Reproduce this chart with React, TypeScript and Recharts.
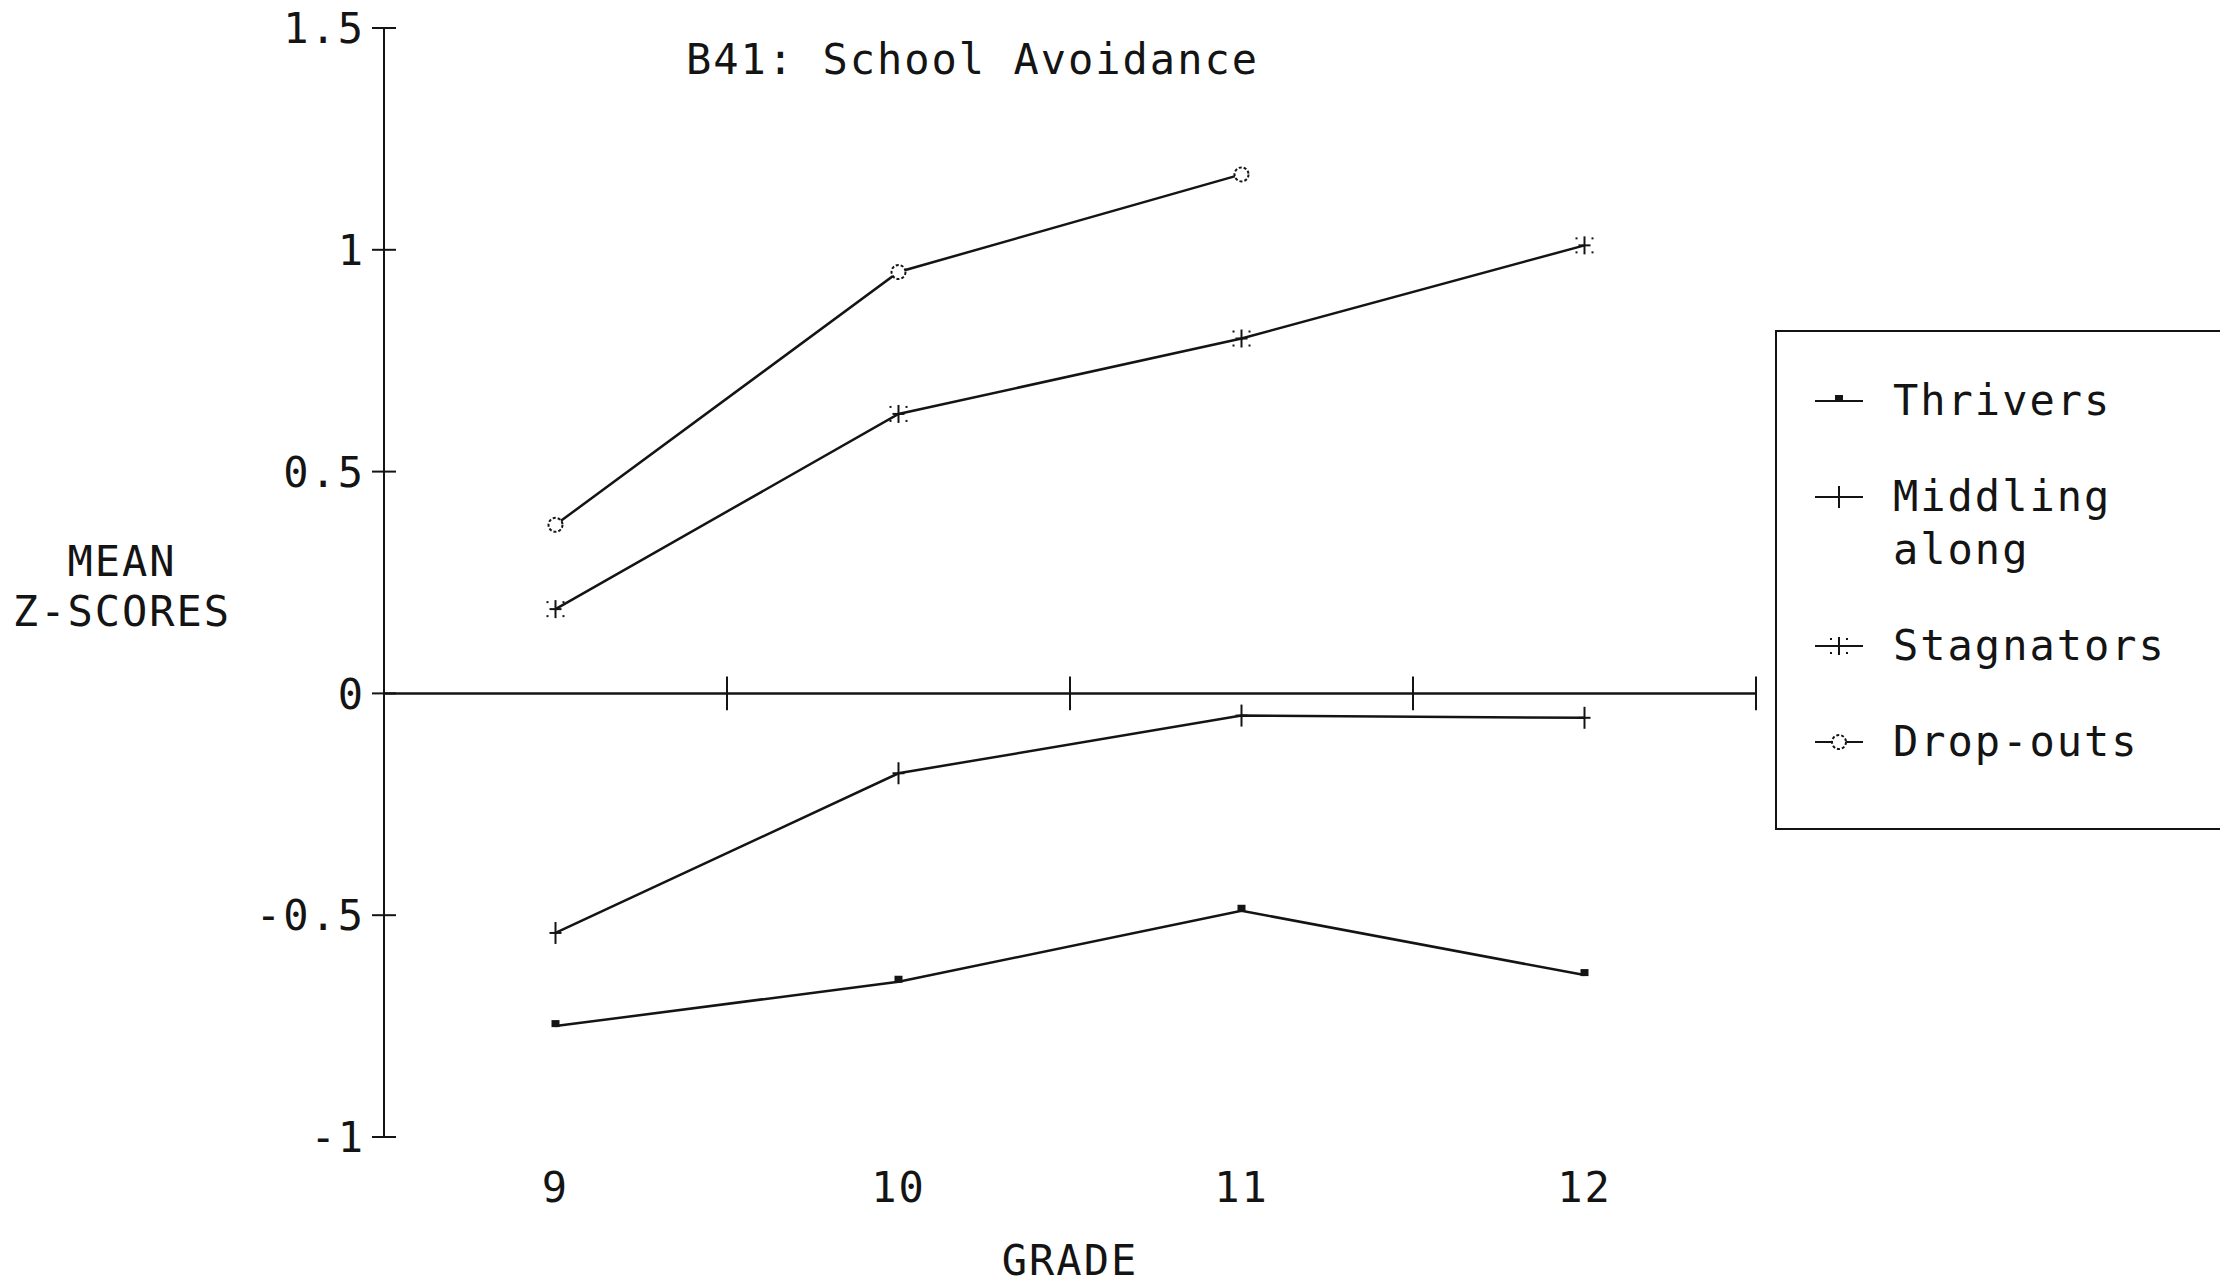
import React from 'react';
import { LineChart, Line, XAxis, YAxis, ReferenceLine, Legend, Label } from 'recharts';

const grades = [9, 10, 11, 12];
const thrivers = [-0.75, -0.65, -0.49, -0.635];
const middlingAlong = [-0.54, -0.18, -0.05, -0.055];
const stagnators = [0.19, 0.63, 0.8, 1.01];
const dropOuts = [0.38, 0.95, 1.17, null];

const yTicks = [-1, -0.5, 0, 0.5, 1, 1.5];
const zeroLineTicks = [9.5, 10.5, 11.5, 12.5];
const seriesKeys = ['thrivers', 'middling', 'stagnators', 'dropouts'];
const seriesNames = ['Thrivers', 'Middling along', 'Stagnators', 'Drop-outs'];
const chartTitle = 'B41: School Avoidance';
const yTitle = ['MEAN', 'Z-SCORES'];
const xTitle = 'GRADE';

const data = grades.map((g, i) => ({
  grade: g,
  thrivers: thrivers[i],
  middling: middlingAlong[i],
  stagnators: stagnators[i],
  dropouts: dropOuts[i],
}));

const INK = '#141414';
const FONT = '"DejaVu Sans Mono", monospace';
const textStyle = { fontFamily: FONT, fontSize: 42, letterSpacing: 2, fill: INK };

// point markers
const Square = ({ cx, cy }: any) => <rect x={cx - 4} y={cy - 6} width={8} height={7} fill={INK} />;
const Cross = ({ cx, cy }: any) => (
  <g stroke={INK} strokeWidth={2}>
    <line x1={cx} y1={cy - 11} x2={cx} y2={cy + 11} />
    <line x1={cx - 6} y1={cy} x2={cx + 6} y2={cy} />
  </g>
);
const Star = ({ cx, cy }: any) => (
  <g stroke={INK} strokeWidth={2} fill={INK}>
    <line x1={cx} y1={cy - 9} x2={cx} y2={cy + 9} />
    <line x1={cx - 6} y1={cy} x2={cx + 6} y2={cy} />
    <rect x={cx - 9} y={cy - 8} width={2} height={2} stroke="none" />
    <rect x={cx + 7} y={cy - 8} width={2} height={2} stroke="none" />
    <rect x={cx - 9} y={cy + 6} width={2} height={2} stroke="none" />
    <rect x={cx + 7} y={cy + 6} width={2} height={2} stroke="none" />
  </g>
);
const Ring = ({ cx, cy }: any) => (
  <circle cx={cx} cy={cy} r={7} fill="#fff" stroke={INK} strokeWidth={2} strokeDasharray="3 2" />
);

const markers: Record<string, any> = {
  thrivers: Square,
  middling: Cross,
  stagnators: Star,
  dropouts: Ring,
};

const makeDot = (key: string) => (p: any) => {
  const M = markers[key];
  if (p.value == null || p.cy == null) return <g key={`${key}-${p.index}`} />;
  return <M key={`${key}-${p.index}`} cx={p.cx} cy={p.cy} />;
};

const YTick = ({ x, y, payload }: any) => (
  <g>
    <line x1={x - 12} y1={y} x2={x + 12} y2={y} stroke={INK} strokeWidth={2} />
    <text x={x - 19} y={y} dy="0.36em" textAnchor="end" style={textStyle}>
      {String(payload.value)}
    </text>
  </g>
);

const GradeTick = ({ x, y, payload }: any) => (
  <text x={x} y={y + 50} dy="0.36em" textAnchor="middle" style={textStyle}>
    {payload.value}
  </text>
);

const LegendBox = ({ payload }: any) => {
  const items = seriesKeys
    .map((k) => (payload || []).find((p: any) => p.dataKey === k))
    .filter(Boolean);
  return (
    <div
      style={{
        boxSizing: 'border-box',
        width: 448,
        height: 500,
        border: `2px solid ${INK}`,
        paddingTop: 42,
        display: 'flex',
        flexDirection: 'column',
        gap: 43,
        fontFamily: FONT,
        fontSize: 42,
        letterSpacing: 2,
        lineHeight: '53px',
        color: INK,
      }}
    >
      {items.map((item: any) => {
        const M = markers[item.dataKey];
        return (
          <div key={item.dataKey} style={{ display: 'flex', alignItems: 'flex-start' }}>
            <svg width={48} height={53} style={{ marginLeft: 38, flexShrink: 0 }}>
              <line x1={0} y1={27} x2={48} y2={27} stroke={INK} strokeWidth={2} />
              <M cx={24} cy={27} />
            </svg>
            <span style={{ marginLeft: 30, width: 310 }}>{item.value}</span>
          </div>
        );
      })}
    </div>
  );
};

export default function App() {
  return (
    <div style={{ position: 'relative', width: 2228, height: 1286, margin: -8, background: '#fff' }}>
      <LineChart
        width={2228}
        height={1286}
        data={data}
        margin={{ top: 28, right: 472, bottom: 49, left: 0 }}
      >
        <XAxis
          type="number"
          dataKey="grade"
          domain={[8.5, 12.5]}
          ticks={grades}
          interval={0}
          height={100}
          axisLine={false}
          tickLine={false}
          tickSize={0}
          tickMargin={0}
          tick={<GradeTick />}
        >
          <Label
            content={({ viewBox }: any) => (
              <text
                x={viewBox.x + viewBox.width / 2}
                y={viewBox.y + 123}
                dy="0.36em"
                textAnchor="middle"
                style={textStyle}
              >
                {xTitle}
              </text>
            )}
          />
        </XAxis>
        <YAxis
          type="number"
          domain={[-1, 1.5]}
          ticks={yTicks}
          interval={0}
          width={384}
          axisLine={{ stroke: INK, strokeWidth: 2 }}
          tickLine={false}
          tickSize={0}
          tickMargin={0}
          tick={<YTick />}
        >
          <Label
            content={({ viewBox }: any) => (
              <g>
                <text x={viewBox.x + 122} y={561} dy="0.36em" textAnchor="middle" style={textStyle}>
                  {yTitle[0]}
                </text>
                <text x={viewBox.x + 122} y={611} dy="0.36em" textAnchor="middle" style={textStyle}>
                  {yTitle[1]}
                </text>
              </g>
            )}
          />
        </YAxis>
        <ReferenceLine y={0} stroke={INK} strokeWidth={2.5} />
        {zeroLineTicks.map((t) => (
          <ReferenceLine
            key={t}
            segment={[
              { x: t, y: -0.038 },
              { x: t, y: 0.038 },
            ]}
            stroke={INK}
            strokeWidth={2}
          />
        ))}
        <Legend
          layout="horizontal"
          verticalAlign="middle"
          align="center"
          wrapperStyle={{ left: 1775, top: 330, width: 448, height: 500 }}
          content={<LegendBox />}
        />
        <Line
          dataKey="thrivers"
          name={seriesNames[0]}
          stroke={INK}
          strokeWidth={2.5}
          dot={makeDot('thrivers')}
          activeDot={false}
          isAnimationActive={false}
        />
        <Line
          dataKey="middling"
          name={seriesNames[1]}
          stroke={INK}
          strokeWidth={2.5}
          dot={makeDot('middling')}
          activeDot={false}
          isAnimationActive={false}
        />
        <Line
          dataKey="stagnators"
          name={seriesNames[2]}
          stroke={INK}
          strokeWidth={2.5}
          dot={makeDot('stagnators')}
          activeDot={false}
          isAnimationActive={false}
        />
        <Line
          dataKey="dropouts"
          name={seriesNames[3]}
          stroke={INK}
          strokeWidth={2.5}
          dot={makeDot('dropouts')}
          activeDot={false}
          isAnimationActive={false}
        />
      </LineChart>
      <div
        style={{
          position: 'absolute',
          left: 686,
          top: 39,
          height: 42,
          lineHeight: '42px',
          fontFamily: FONT,
          fontSize: 42,
          letterSpacing: 2,
          color: INK,
          whiteSpace: 'nowrap',
        }}
      >
        {chartTitle}
      </div>
    </div>
  );
}
